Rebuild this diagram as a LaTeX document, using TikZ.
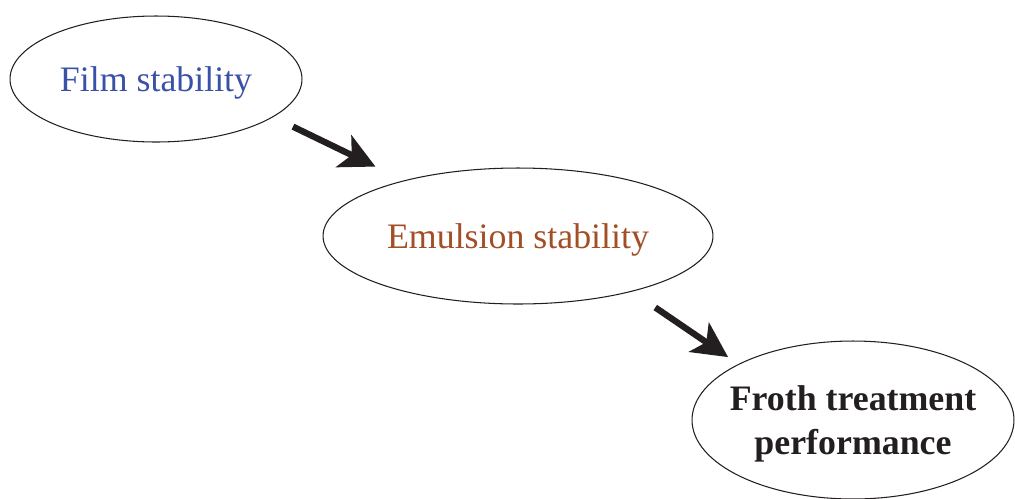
\documentclass[tikz,border=0pt]{standalone}
\usepackage{fontspec}
\setmainfont{Liberation Serif}
\usetikzlibrary{shapes.geometric,arrows.meta}
\definecolor{filmblue}{RGB}{58,82,166}
\definecolor{emulbrown}{RGB}{162,78,38}
\definecolor{inkdark}{RGB}{35,31,32}
\begin{document}
\begin{tikzpicture}[x=0.02cm,y=-0.02cm,
    oval/.style={draw=inkdark,ellipse,line width=0.6pt,inner sep=0pt,text depth=0pt,font=\fontsize{20.4}{25}\selectfont},
    arr/.style={inkdark,line width=3.6pt,-{Stealth[length=20pt,width=20pt,inset=5pt]}}]

      \useasboundingbox (0,0) rectangle (1015,498);

      \node[oval,minimum width=5.84cm,minimum height=2.52cm,text=filmblue] (film) at (156,79) {Film stability};
      \node[oval,minimum width=7.8cm,minimum height=2.72cm,text=emulbrown] (emul) at (518,236) {Emulsion stability};
      \node[oval,minimum width=6.44cm,minimum height=3.16cm,inner xsep=-40pt,align=center,text=inkdark,font=\fontsize{20.4}{25}\selectfont\bfseries] (froth) at (853,420) {Froth treatment\\performance};

      \draw[arr,shorten <=12.5pt,shorten >=18pt] (film.-18.7) -- (emul.154.9);
      \draw[arr,shorten <=16pt,shorten >=7pt] (emul.-26.4) -- (froth.154.2);

    \end{tikzpicture}
\end{document}
